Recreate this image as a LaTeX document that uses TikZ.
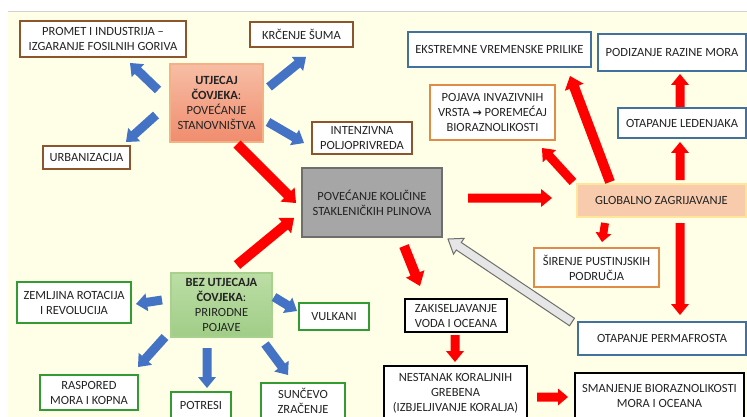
\documentclass[tikz,border=0pt]{standalone}
\usepackage{fontspec}
\setmainfont{Carlito}
\newfontfamily\symfont{DejaVu Sans}
\usetikzlibrary{calc}
\definecolor{bgc}{RGB}{255,255,231}
\definecolor{txt}{RGB}{35,35,35}
\definecolor{brownb}{RGB}{140,85,45}
\definecolor{blueb}{RGB}{65,113,156}
\definecolor{orangeb}{RGB}{225,140,70}
\definecolor{greenb}{RGB}{50,155,50}
\definecolor{blarr}{RGB}{68,114,196}
\definecolor{rdarr}{RGB}{255,0,0}
\definecolor{grfill}{RGB}{166,166,166}
\definecolor{grdraw}{RGB}{110,110,110}
\definecolor{utjtop}{RGB}{247,190,165}
\definecolor{utjbot}{RGB}{240,140,110}
\definecolor{utjdraw}{RGB}{244,177,131}
\definecolor{beztop}{RGB}{188,222,165}
\definecolor{bezbot}{RGB}{160,205,135}
\definecolor{bezdraw}{RGB}{169,209,142}
\definecolor{globfill}{RGB}{248,203,173}
\definecolor{globdraw}{RGB}{255,230,153}
\definecolor{garfill}{RGB}{230,230,230}
\newcommand\blk[6]{%
  \coordinate (bkH) at ($(#3)!#6!(#2)$);
  \path[#1] ($(#2)!#4!90:(#3)$) -- ($(bkH)!#4!90:(#3)$) -- ($(bkH)!#5!90:(#3)$) -- (#3)
    -- ($(bkH)!#5!-90:(#3)$) -- ($(bkH)!#4!-90:(#3)$) -- ($(#2)!#4!-90:(#3)$) -- cycle;}
\begin{document}
\begin{tikzpicture}[x=1pt,y=-1pt,
  box/.style={draw, line width=1.3pt, fill=white, align=center, inner sep=0pt, text=txt,
    font=\fontsize{12.5}{15}\selectfont},
  brbox/.style={box, draw=brownb},
  blbox/.style={box, draw=blueb},
  orbox/.style={box, draw=orangeb},
  gnbox/.style={box, draw=greenb},
  bkbox/.style={box, draw=black},
  redA/.style={fill=rdarr},
  bluA/.style={fill=blarr},
  grayA/.style={fill=garfill, draw=grdraw, line width=1pt, line join=miter}
]
\useasboundingbox (0,0) rectangle (747,417);
\clip (0,0) rectangle (747,417);
\fill[bgc] (8,11) rectangle (747,417);
\draw[gray!35, line width=0.8pt] (8,11) -- (747,11);

% left top cluster
\node[brbox, minimum width=166pt, minimum height=36pt] (promet) at (103,39) {PROMET I INDUSTRIJA --\\IZGARANJE FOSILNIH GORIVA};
\node[brbox, minimum width=103pt, minimum height=25pt] (krc) at (301.5,34.5) {KRČENJE ŠUMA};
\node[box, draw=utjdraw, top color=utjtop, bottom color=utjbot, minimum width=93pt, minimum height=78pt] (utj) at (216.5,103) {\textbf{UTJECAJ}\\\textbf{ČOVJEKA}:\\POVEĆANJE\\STANOVNIŠTVA};
\node[brbox, minimum width=87pt, minimum height=23pt] (urb) at (86.5,157.5) {URBANIZACIJA};
\node[brbox, minimum width=100pt, minimum height=32pt] (int) at (362,138) {INTENZIVNA\\POLJOPRIVREDA};

% center
\node[box, draw=grdraw, fill=grfill, minimum width=140pt, minimum height=69pt] (pov) at (372,202.5) {POVEĆANJE KOLIČINE\\STAKLENIČKIH PLINOVA};

% right
\node[blbox, minimum width=183pt, minimum height=35pt] (eks) at (499.5,49.5) {EKSTREMNE VREMENSKE PRILIKE};
\node[blbox, minimum width=148pt, minimum height=37pt] (pod) at (672,52.5) {PODIZANJE RAZINE MORA};
\node[orbox, minimum width=125pt, minimum height=55pt] (poj) at (492.5,112.5) {POJAVA INVAZIVNIH\\VRSTA {\symfont\bfseries\fontsize{11}{15}\selectfont →} POREMEĆAJ\\BIORAZNOLIKOSTI};
\node[blbox, minimum width=128pt, minimum height=30pt] (oled) at (682,123) {OTAPANJE LEDENJAKA};
\node[box, draw=globdraw, fill=globfill, minimum width=169pt, minimum height=33pt] (glob) at (661.5,200.5) {GLOBALNO ZAGRIJAVANJE};
\node[orbox, minimum width=125pt, minimum height=39pt] (sir) at (596.5,267.5) {ŠIRENJE PUSTINJSKIH\\PODRUČJA};
\node[blbox, minimum width=168pt, minimum height=33pt] (perma) at (662,338.5) {OTAPANJE PERMAFROSTA};
\node[bkbox, minimum width=102pt, minimum height=33pt] (zak) at (456,315.5) {ZAKISELJAVANJE\\VODA I OCEANA};
\node[bkbox, minimum width=143pt, minimum height=55pt] (nest) at (455.5,393.5) {NESTANAK KORALJNIH\\GREBENA\\(IZBJELJIVANJE KORALJA)};
\node[bkbox, minimum width=169pt, minimum height=45pt] (sma) at (659.5,395.5) {SMANJENJE BIORAZNOLIKOSTI\\MORA I OCEANA};

% bottom left
\node[box, draw=bezdraw, top color=beztop, bottom color=bezbot, minimum width=101pt, minimum height=64pt] (bez) at (221.5,305) {\textbf{BEZ UTJECAJA}\\\textbf{ČOVJEKA}:\\PRIRODNE\\POJAVE};
\node[gnbox, minimum width=114pt, minimum height=41pt] (zem) at (74,302.5) {ZEMLJINA ROTACIJA\\I REVOLUCIJA};
\node[gnbox, minimum width=70pt, minimum height=27pt] (vul) at (334,316.5) {VULKANI};
\node[gnbox, minimum width=98pt, minimum height=35pt] (ras) at (89,392.5) {RASPORED\\MORA I KOPNA};
\node[gnbox, minimum width=60pt, minimum height=26pt] (pot) at (201,405) {POTRESI};
\node[gnbox, minimum width=84pt, minimum height=35pt] (sun) at (303,400.5) {SUNČEVO\\ZRAČENJE};

% arrow end points
\coordinate (b1s) at (158,90);  \coordinate (b1e) at (130,63);
\coordinate (b2s) at (269,87);  \coordinate (b2e) at (306,57);
\coordinate (b3s) at (156,115); \coordinate (b3e) at (126,142);
\coordinate (b4s) at (268,122); \coordinate (b4e) at (304,143);
\coordinate (b5s) at (162,300); \coordinate (b5e) at (136,304);
\coordinate (b6s) at (274,297); \coordinate (b6e) at (297,311);
\coordinate (b7s) at (165,337); \coordinate (b7e) at (138,367);
\coordinate (b8s) at (207,348); \coordinate (b8e) at (207,388);
\coordinate (b9s) at (265,344); \coordinate (b9e) at (288,375);

\coordinate (r1s) at (237,144); \coordinate (r1e) at (296,203);
\coordinate (r2s) at (237,265); \coordinate (r2e) at (294,218);
\coordinate (r3s) at (468,198); \coordinate (r3e) at (552,198);
\coordinate (r4s) at (404,246); \coordinate (r4e) at (420,286);
\coordinate (r5s) at (455,335); \coordinate (r5e) at (455,362);
\coordinate (r6s) at (537,397); \coordinate (r6e) at (568,397);
\coordinate (r7s) at (605,223); \coordinate (r7e) at (602,242);
\coordinate (r8s) at (680,223); \coordinate (r8e) at (680,315);
\coordinate (r9s) at (573,182); \coordinate (r9e) at (542,148);
\coordinate (r10s) at (610,182); \coordinate (r10e) at (570,76);
\coordinate (r11s) at (680,180); \coordinate (r11e) at (680,142);
\coordinate (r12s) at (680,107); \coordinate (r12e) at (680,74);
\coordinate (gs) at (572,322); \coordinate (ge) at (448,239);

% blue arrows
\blk{bluA}{b1s}{b1e}{4.5pt}{9pt}{11pt}
\blk{bluA}{b2s}{b2e}{4.5pt}{9pt}{11pt}
\blk{bluA}{b3s}{b3e}{4.5pt}{9pt}{11pt}
\blk{bluA}{b4s}{b4e}{4.5pt}{9pt}{11pt}
\blk{bluA}{b5s}{b5e}{4.5pt}{9pt}{11pt}
\blk{bluA}{b6s}{b6e}{4.5pt}{9pt}{11pt}
\blk{bluA}{b7s}{b7e}{4.5pt}{9pt}{11pt}
\blk{bluA}{b8s}{b8e}{4.5pt}{9pt}{11pt}
\blk{bluA}{b9s}{b9e}{4.5pt}{9pt}{11pt}

% red arrows
\blk{redA}{r1s}{r1e}{5pt}{10pt}{12pt}
\blk{redA}{r2s}{r2e}{5pt}{10pt}{12pt}
\blk{redA}{r3s}{r3e}{4.5pt}{9pt}{11pt}
\blk{redA}{r4s}{r4e}{5pt}{10pt}{13pt}
\blk{redA}{r5s}{r5e}{4.5pt}{9pt}{11pt}
\blk{redA}{r6s}{r6e}{4.5pt}{8.5pt}{10pt}
\blk{redA}{r7s}{r7e}{4pt}{8pt}{9pt}
\blk{redA}{r8s}{r8e}{4.5pt}{9pt}{11pt}
\blk{redA}{r9s}{r9e}{4.5pt}{9pt}{11pt}
\blk{redA}{r10s}{r10e}{5pt}{10pt}{12pt}
\blk{redA}{r11s}{r11e}{4.5pt}{9pt}{11pt}
\blk{redA}{r12s}{r12e}{4.5pt}{9pt}{11pt}

% gray feedback arrow
\blk{grayA}{gs}{ge}{4.5pt}{9.5pt}{13pt}
\end{tikzpicture}
\end{document}
